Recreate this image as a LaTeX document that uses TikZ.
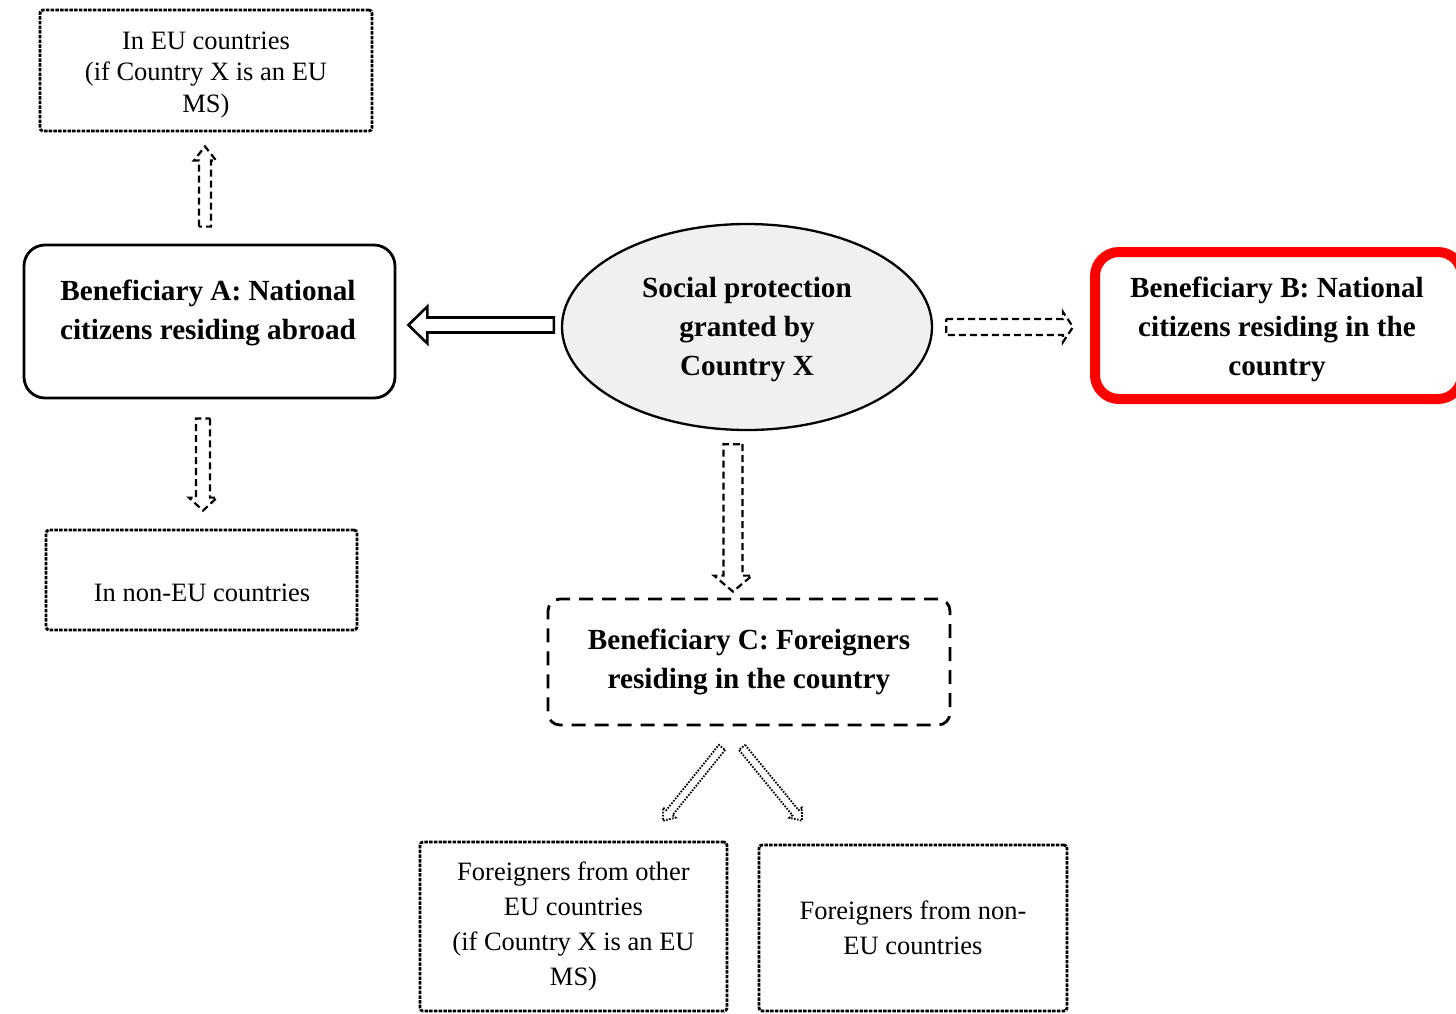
\documentclass[tikz,border=0pt]{standalone}
\usepackage{fontspec}
\setmainfont{Liberation Serif}
\usetikzlibrary{calc,shapes.geometric}

\tikzset{
  % hollow block arrow drawn from the start point to the tip:
  % #1 = half shaft width, #2 = half head width, #3 = head length
  blockarrow/.style n args={3}{to path={
    let \p1=(\tikztostart), \p2=(\tikztotarget),
        \n1={scalar(atan2(\y2-\y1,\x2-\x1))},
        \n2={veclen(\x2-\x1,\y2-\y1)-#3}
    in ($(\p1)+(\n1+90:#1)$) -- ($(\p1)+(\n1:\n2)+(\n1+90:#1)$)
       -- ($(\p1)+(\n1:\n2)+(\n1+90:#2)$) -- (\p2)
       -- ($(\p1)+(\n1:\n2)+(\n1-90:#2)$) -- ($(\p1)+(\n1:\n2)+(\n1-90:#1)$)
       -- ($(\p1)+(\n1-90:#1)$) -- cycle}},
}

\begin{document}
\begin{tikzpicture}[x=1pt,y=-1pt,
  regtext/.style={font=\fontsize{26.5}{31.5}\selectfont, align=center},
  regtextwide/.style={font=\fontsize{26.5}{35}\selectfont, align=center},
  boldtext/.style={font=\bfseries\fontsize{29.2}{39}\selectfont, align=center},
  dotbox/.style={draw, line width=2.8pt, dash pattern=on 3.5pt off 1.2pt,
                 rounded corners=3pt, inner sep=0pt},
  solidbox/.style={draw, line width=2.8pt, rounded corners=21pt, inner sep=0pt},
  dashbox/.style={draw, line width=2.8pt, dash pattern=on 14pt off 9pt,
                  rounded corners=12pt, inner sep=0pt},
  dasharrow/.style={draw, line width=2.2pt, dash pattern=on 7pt off 4pt},
  solidarrow/.style={draw, line width=2.6pt},
  dotarrow/.style={draw, line width=1.8pt, dash pattern=on 1.6pt off 1.4pt},
]
\useasboundingbox (0,0) rectangle (1456,1013);

% ---- boxes ----
\node[dotbox, minimum width=332pt, minimum height=121pt] (eu) at (206,70.5) {};
\node[regtext] (eutxt) at (206,75)
  {In EU countries\\(if Country X is an EU\\MS)};

\node[solidbox, minimum width=371pt, minimum height=153pt] (A) at (209.5,321.5) {};
\node[boldtext] (Atxt) at (208,313) {Beneficiary A: National\\citizens residing abroad};

\node[ellipse, draw, line width=2.3pt, fill=black!6, minimum width=370pt,
      minimum height=206pt] (sp) at (747,327) {};
\node[boldtext] (sptxt) at (747,330) {Social protection\\granted by\\Country X};

\node[draw=red, line width=10pt, rounded corners=24pt, minimum width=367pt,
      minimum height=147pt, inner sep=0pt] (B) at (1278.5,325.5) {};
\node[boldtext] (Btxt) at (1277,329.5)
  {Beneficiary B: National\\citizens residing in the\\country};

\node[dotbox, minimum width=311pt, minimum height=100pt] (noneu) at (201.5,580) {};
\node[regtext] (noneutxt) at (202,593) {In non-EU countries};

\node[dashbox, minimum width=402pt, minimum height=126pt, boldtext] (C) at (749,662)
  {Beneficiary C: Foreigners\\residing in the country};

\node[dotbox, regtextwide, minimum width=307pt, minimum height=169pt] (feu) at (573.5,926.5)
  {Foreigners from other\\EU countries\\(if Country X is an EU\\MS)};

\node[dotbox, regtextwide, minimum width=308pt, minimum height=166pt] (fnon) at (913,928)
  {Foreigners from non-\\EU countries};

% ---- connectors ----
\path[dasharrow, blockarrow={6pt}{11pt}{14pt}]
  ($(A.north)+(-4.5,-17)$) to ($(eu.south)+(-1,14)$);
\path[dasharrow, blockarrow={7pt}{14pt}{13pt}]
  ($(A.south)+(-6.5,19)$) to ($(noneu.north)+(1.5,-18)$);
\path[solidarrow, blockarrow={7.5pt}{18.5pt}{19pt}]
  ($(sp.west)+(-7,-2)$) to ($(A.east)+(12,3.5)$);
\path[dasharrow, blockarrow={8pt}{15pt}{10pt}]
  ($(sp.east)+(13,0)$) to ($(B.west)+(-17,1.5)$);
\path[dasharrow, blockarrow={9.5pt}{19pt}{16pt}]
  ($(sp.south)+(-14,13)$) to ($(C.north)+(-16,-6)$);
\path[dotarrow, blockarrow={4pt}{8pt}{10pt}]
  ($(C.south)+(-27,21)$) to ($(feu.north)+(89.5,-20)$);
\path[dotarrow, blockarrow={4pt}{8pt}{10pt}]
  ($(C.south)+(-7,21)$) to ($(fnon.north)+(-111,-23)$);
\end{tikzpicture}
\end{document}
